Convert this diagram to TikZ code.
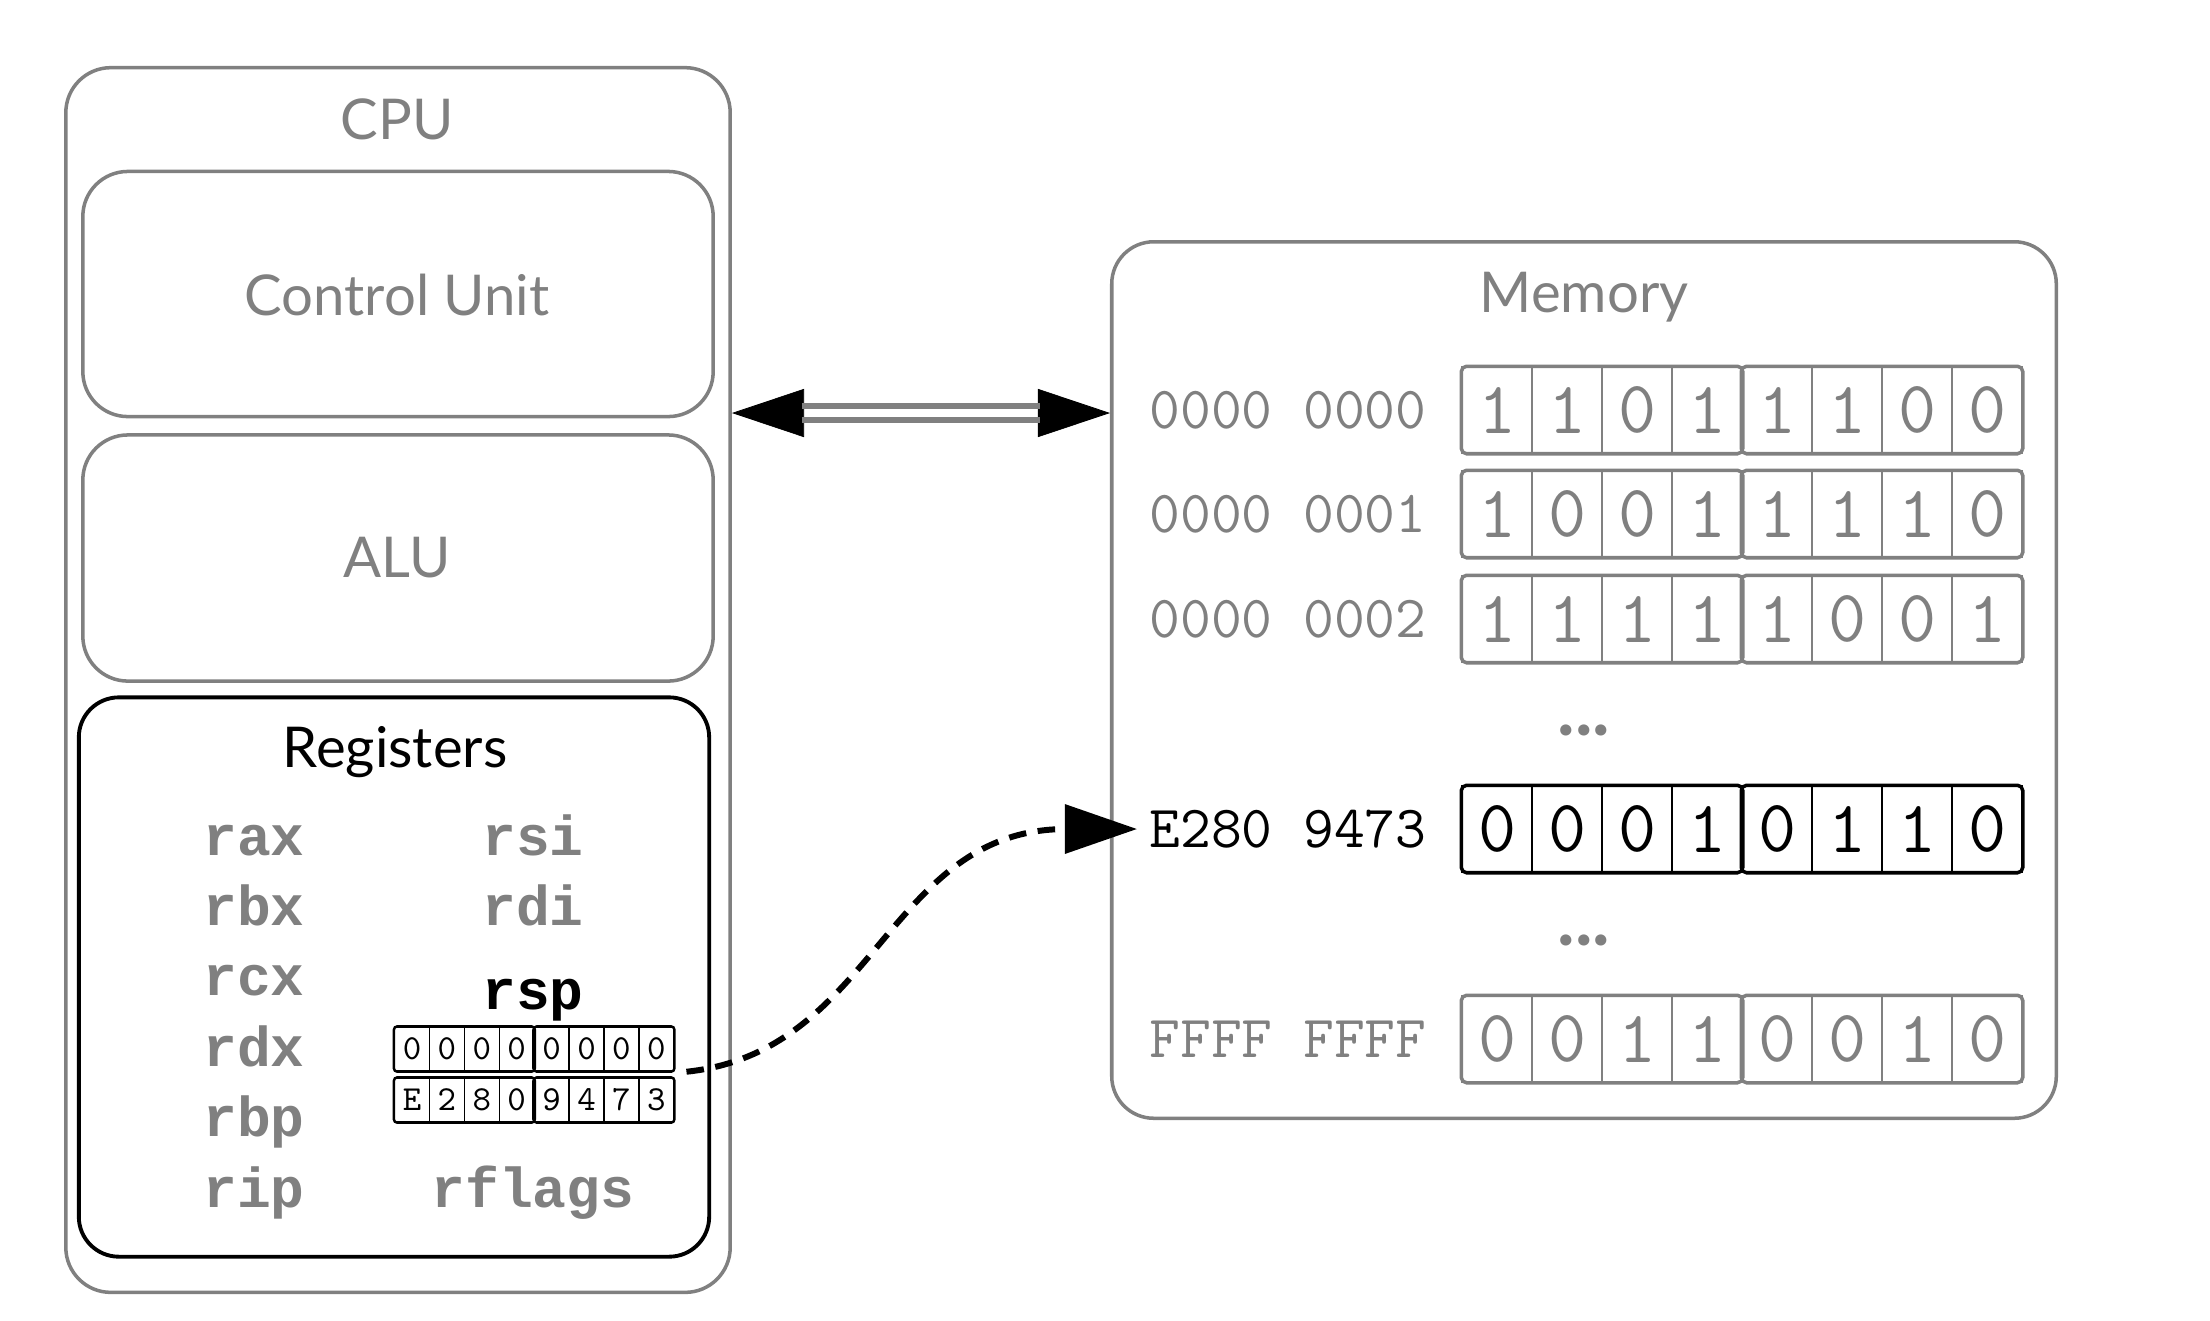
\documentclass[tikz,border=0pt]{standalone}
\usepackage{fontspec}
\setmainfont{Lato}
\newfontfamily\regfont{Liberation Mono}
\usetikzlibrary{arrows.meta,calc}
\definecolor{boxgray}{RGB}{128,128,128}

\tikzset{
  >={Triangle[length=20.5pt,width=13.7pt,black]},
  part/.style={draw=boxgray, line width=1pt, rounded corners=0.45cm},
  partlabel/.style={text=boxgray, anchor=base, font=\fontsize{16}{18}\selectfont},
  reg/.style={text=boxgray, anchor=base, font=\regfont\bfseries\fontsize{16}{18}\selectfont},
  bit/.style={draw, line width=0.4pt, minimum width=0.7cm, minimum height=0.86cm, inner sep=0pt, font=\ttfamily\fontsize{21}{22}\selectfont},
  nib/.style={draw, line width=0.4pt, minimum width=0.349cm, minimum height=0.44cm, inner sep=0pt, font=\ttfamily\fontsize{10}{11}\selectfont},
  addr/.style={font=\ttfamily\fontsize{17}{19}\selectfont},
  gap/.style={text=boxgray, font=\bfseries\fontsize{21}{22}\selectfont}
}

\begin{document}
\begin{tikzpicture}[x=0.01cm, y=-0.01cm]
\useasboundingbox (0,0) rectangle (2210,1320);

% CPU
\node[part, minimum width=6.64cm, minimum height=12.24cm] (cpu) at (398,680) {};
\node[partlabel] (cpulabel) at (397,139) {CPU};
\node[part, minimum width=6.30cm, minimum height=2.45cm] (ctrl) at (398,294) {};
\node[partlabel] (ctrllabel) at (397,315) {Control Unit};
\node[part, minimum width=6.30cm, minimum height=2.46cm] (alu) at (398,558) {};
\node[partlabel] (alulabel) at (397,577) {ALU};

% registers
\node[part, draw=black, line width=1.1pt, rounded corners=0.4cm, minimum width=6.30cm, minimum height=5.59cm] (regs) at (394,977) {};
\node[partlabel, text=black] (regslabel) at (395,767) {Registers};
\foreach \n [count=\i from 0] in {rax,rbx,rcx,rdx,rbp,rip}
  \node[reg] (\n) at (254,855+70.4*\i) {\n};
\node[reg] (rsi) at (533,855) {rsi};
\node[reg] (rdi) at (533,925) {rdi};
\node[reg, text=black] (rsp) at (533,1009) {rsp};
\node[reg] (rflags) at (533,1207) {rflags};

% contents of rsp
\foreach \d [count=\i from 0] in {0,0,0,0,0,0,0,0}
  \node[nib] (rspA-\i) at (412+34.9*\i,1049) {\d};
\foreach \d [count=\i from 0] in {E,2,8,0,9,4,7,3}
  \node[nib] (rspB-\i) at (412+34.9*\i,1100) {\d};
\foreach \r in {rspA,rspB} {
  \draw[line width=0.7pt, rounded corners=1pt] (\r-0.north west) rectangle (\r-3.south east);
  \draw[line width=0.7pt, rounded corners=1pt] (\r-4.north west) rectangle (\r-7.south east);
}

% memory
\node[part, rounded corners=0.42cm, minimum width=9.44cm, minimum height=8.76cm] (mem) at (1584,680) {};
\node[partlabel] (memlabel) at (1584,312) {Memory};

\foreach \r/\y/\a/\bits/\c in {1/410/0000 0000/{1,1,0,1,1,1,0,0}/boxgray,
    2/514/0000 0001/{1,0,0,1,1,1,1,0}/boxgray,
    3/619/0000 0002/{1,1,1,1,1,0,0,1}/boxgray,
    4/829/E280 9473/{0,0,0,1,0,1,1,0}/black,
    5/1039/FFFF FFFF/{0,0,1,1,0,0,1,0}/boxgray} {
  \node[addr, text=\c] (addr\r) at (1288,\y) {\a};
  \foreach \b [count=\i from 0] in \bits
    \node[bit, draw=\c, text=\c] (m\r-\i) at (1497+70*\i,\y) {\b};
  \draw[\c, line width=1pt, rounded corners=1.5pt] (m\r-0.north west) rectangle (m\r-3.south east);
  \draw[\c, line width=1pt, rounded corners=1.5pt] (m\r-4.north west) rectangle (m\r-7.south east);
}
\node[gap] (dots1) at (1584,730) {...};
\node[gap] (dots2) at (1584,940) {...};

% bus between cpu and memory
\coordinate (bus) at (0,413);
\draw[white, line width=0.2pt, <->] (cpu.east |- bus) -- (mem.west |- bus);
\draw[boxgray, line width=1.5pt] ($(cpu.east |- bus)+(70,-7)$) -- ($(mem.west |- bus)+(-70,-7)$);
\draw[boxgray, line width=1.5pt] ($(cpu.east |- bus)+(70,7)$) -- ($(mem.west |- bus)+(-70,7)$);

% rsp points into memory
\coordinate (rspout) at ($(rspA-7.south east)+(12,0)$);
\draw[->, line width=1.7pt, dash pattern=on 5pt off 3.3pt] (rspout) .. controls +(190,-20) and +(-250,0) .. (addr4.west);

\end{tikzpicture}
\end{document}
